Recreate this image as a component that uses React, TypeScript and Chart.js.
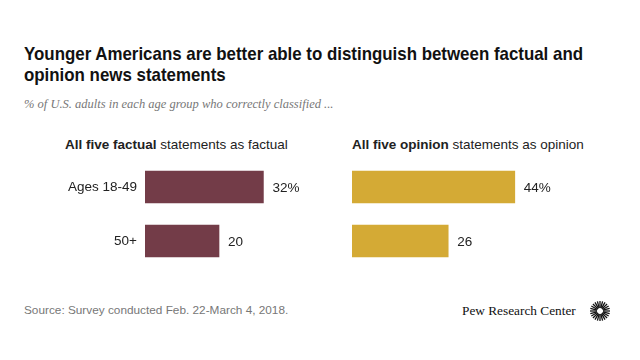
import React, { useEffect, useLayoutEffect, useRef, useState } from "react";
import { Chart, registerables } from "chart.js";

Chart.register(...registerables);

const categories = ["Ages 18-49", "50+"];
const factualValues = [32, 20];
const opinionValues = [44, 26];
const valueLabelsFactual = ["32%", "20"];
const valueLabelsOpinion = ["44%", "26"];

const FONT = '"Liberation Sans", Arial, sans-serif';

const valueLabelPlugin = (labels: string[]) => ({
  id: "valueLabels",
  afterDatasetsDraw(chart: any) {
    const ctx = chart.ctx;
    const meta = chart.getDatasetMeta(0);
    ctx.save();
    ctx.font = `13.5px ${FONT}`;
    ctx.fillStyle = "#222";
    ctx.textBaseline = "middle";
    ctx.textAlign = "left";
    meta.data.forEach((bar: any, i: number) => {
      ctx.fillText(labels[i], bar.x + 9, bar.y + 1);
    });
    ctx.restore();
  },
});

function BarPanel(props: {
  values: number[];
  labels: string[];
  color: string;
  showCats: boolean;
  style: React.CSSProperties;
  width: number;
}) {
  const ref = useRef<HTMLCanvasElement>(null);
  useEffect(() => {
    const chart = new Chart(ref.current!, {
      type: "bar",
      data: {
        labels: categories,
        datasets: [
          {
            data: props.values,
            backgroundColor: props.color,
            barThickness: 32,
            borderWidth: 0,
          },
        ],
      },
      options: {
        indexAxis: "y",
        responsive: false,
        animation: false,
        maintainAspectRatio: false,
        layout: {
          autoPadding: false,
          padding: { left: 0, top: 0, bottom: 0, right: props.width - 185 - (props.showCats ? 85 : 0) },
        },
        plugins: { legend: { display: false }, tooltip: { enabled: false } },
        scales: {
          x: { min: 0, max: 50, display: false },
          y: {
            display: props.showCats,
            grid: { display: false, drawTicks: false },
            border: { display: false },
            ticks: {
              padding: 8,
              color: "#222",
              font: { size: 13.5, family: FONT },
            },
            afterFit: (s: any) => {
              s.width = props.showCats ? 85 : 0;
              s.paddingTop = 0;
              s.paddingBottom = 0;
            },
          },
        },
      },
      plugins: [valueLabelPlugin(props.labels)],
    });
    return () => chart.destroy();
  }, []);
  return (
    <canvas
      ref={ref}
      width={props.width}
      height={108}
      style={{ position: "absolute", width: props.width, height: 108, ...props.style }}
    />
  );
}

function Title() {
  const l1 = useRef<HTMLSpanElement>(null);
  const [scale, setScale] = useState(1);
  useLayoutEffect(() => {
    if (l1.current) {
      const w = l1.current.getBoundingClientRect().width;
      if (w > 0) setScale(559 / w);
    }
  }, []);
  const lineStyle: React.CSSProperties = {
    display: "inline-block",
    whiteSpace: "nowrap",
    transform: `scaleX(${scale})`,
    transformOrigin: "0 0",
  };
  return (
    <div
      style={{
        position: "absolute",
        left: 24,
        top: 43,
        width: 700,
        fontFamily: FONT,
        fontWeight: "bold",
        fontSize: 19,
        lineHeight: "21px",
        color: "#111",
      }}
    >
      <span ref={l1} style={lineStyle}>
        Younger Americans are better able to distinguish between factual and
      </span>
      <br />
      <span style={lineStyle}>opinion news statements</span>
    </div>
  );
}

export default function App() {
  return (
    <div
      style={{
        position: "fixed",
        left: 0,
        top: 0,
        width: 640,
        height: 360,
        background: "#fff",
        overflow: "hidden",
      }}
    >
      <Title />
      <div
        style={{
          position: "absolute",
          left: 24,
          top: 97,
          fontFamily: '"Liberation Serif", serif',
          fontStyle: "italic",
          fontSize: 12.5,
          color: "#777",
          whiteSpace: "nowrap",
        }}
      >
        % of U.S. adults in each age group who correctly classified ...
      </div>
      <div
        style={{
          position: "absolute",
          left: 65,
          top: 137,
          fontFamily: FONT,
          fontSize: 13.5,
          color: "#222",
          whiteSpace: "nowrap",
        }}
      >
        <b>All five factual</b> statements as factual
      </div>
      <div
        style={{
          position: "absolute",
          left: 352,
          top: 137,
          fontFamily: FONT,
          fontSize: 13.5,
          color: "#222",
          whiteSpace: "nowrap",
        }}
      >
        <b>All five opinion</b> statements as opinion
      </div>
      <BarPanel
        values={factualValues}
        labels={valueLabelsFactual}
        color="#733c48"
        showCats={true}
        width={270}
        style={{ left: 60, top: 160 }}
      />
      <BarPanel
        values={opinionValues}
        labels={valueLabelsOpinion}
        color="#d4aa35"
        showCats={false}
        width={240}
        style={{ left: 352, top: 160 }}
      />
      <div
        style={{
          position: "absolute",
          left: 24,
          top: 303,
          fontFamily: FONT,
          fontSize: 11.8,
          color: "#777",
          whiteSpace: "nowrap",
        }}
      >
        Source: Survey conducted Feb. 22-March 4, 2018.
      </div>
      <div
        style={{
          position: "absolute",
          left: 462,
          top: 303,
          fontFamily: '"Liberation Serif", serif',
          fontSize: 13.3,
          color: "#111",
          whiteSpace: "nowrap",
        }}
      >
        Pew Research Center
      </div>
      <svg
        style={{ position: "absolute", left: 589, top: 300 }}
        width={22}
        height={22}
        viewBox="-11 -11 22 22"
      >
        {Array.from({ length: 24 }).map((_, i) => {
          const a = (i / 24) * Math.PI * 2;
          return (
            <line
              key={i}
              x1={Math.cos(a) * 3}
              y1={Math.sin(a) * 3}
              x2={Math.cos(a) * 10}
              y2={Math.sin(a) * 10}
              stroke="#111"
              strokeWidth={1.3}
            />
          );
        })}
      </svg>
    </div>
  );
}
